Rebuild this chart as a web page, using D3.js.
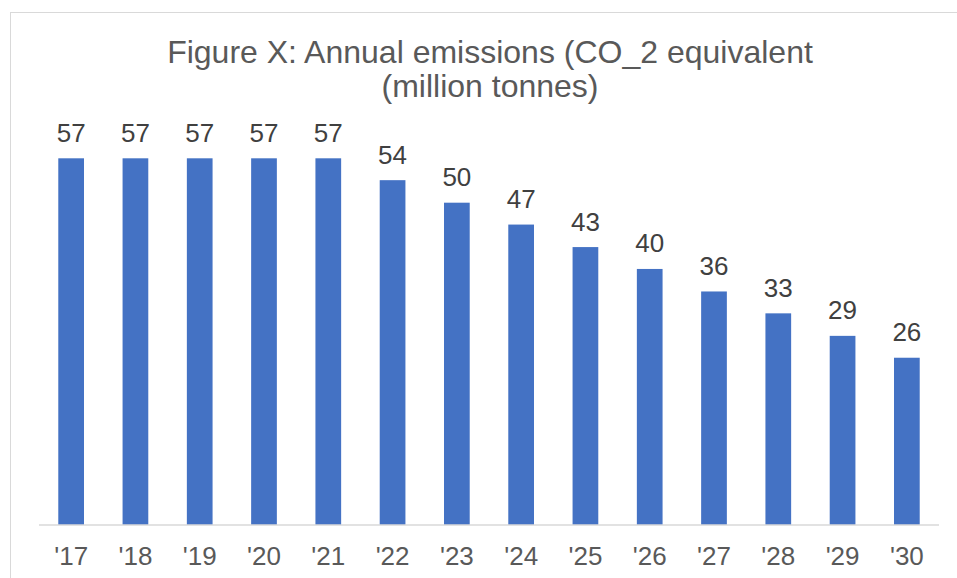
<!DOCTYPE html>
<html>
<head>
<meta charset="utf-8">
<script src="https://cdn.jsdelivr.net/npm/d3@7"></script>
<style>
  html, body { margin: 0; padding: 0; background: #fff; }
  svg { display: block; }
</style>
</head>
<body>
<svg id="chart" width="957" height="578"></svg>
<script>
const categories = ["'17","'18","'19","'20","'21","'22","'23","'24","'25","'26","'27","'28","'29","'30"];
const values = [57, 57, 57, 57, 57, 53.6, 50.1, 46.7, 43.2, 39.8, 36.3, 32.9, 29.4, 26.0];
const titleLines = ["Figure X: Annual emissions (CO_2 equivalent", "(million tonnes)"];

const svg = d3.select("#chart");
const W = 957, H = 578;
const font = "Arial, 'Liberation Sans', Helvetica, sans-serif";

// chart frame
svg.append("rect")
  .attr("x", 10.5).attr("y", 12.5)
  .attr("width", W + 20).attr("height", H + 20)
  .attr("fill", "#fff").attr("stroke", "#D9D9D9").attr("stroke-width", 1);

const x = d3.scaleBand().domain(categories).range([39, 939]).paddingInner(0.6).paddingOuter(0.3);
const y = d3.scaleLinear().domain([0, 60]).range([525, 139]);

// title
svg.append("text")
  .attr("x", 490).attr("y", 63)
  .attr("text-anchor", "middle")
  .attr("font-family", font).attr("font-size", 32).attr("fill", "#595959")
  .selectAll("tspan").data(titleLines).join("tspan")
  .attr("x", 490).attr("dy", (d, i) => i === 0 ? 0 : 34)
  .text(d => d);

// bars
svg.append("g").selectAll("rect").data(values).join("rect")
  .attr("x", (d, i) => x(categories[i]))
  .attr("y", d => y(d))
  .attr("width", x.bandwidth())
  .attr("height", d => y(0) - y(d))
  .attr("fill", "#4472C4");

// data labels
svg.append("g").selectAll("text").data(values).join("text")
  .attr("x", (d, i) => x(categories[i]) + x.bandwidth() / 2)
  .attr("y", d => y(d) - 16.5)
  .attr("text-anchor", "middle")
  .attr("font-family", font).attr("font-size", 26).attr("fill", "#404040")
  .text(d => d3.format(".0f")(d));

// x axis
const xAxis = svg.append("g").attr("transform", "translate(0,525)")
  .call(d3.axisBottom(x).tickSize(0).tickPadding(0));
xAxis.select(".domain").attr("stroke", "#D9D9D9").attr("stroke-width", 1.5)
  .attr("d", "M39,0H939");
xAxis.selectAll(".tick text")
  .attr("dy", null).attr("y", 40)
  .attr("font-family", font).attr("font-size", 26).attr("fill", "#595959");
</script>
</body>
</html>
